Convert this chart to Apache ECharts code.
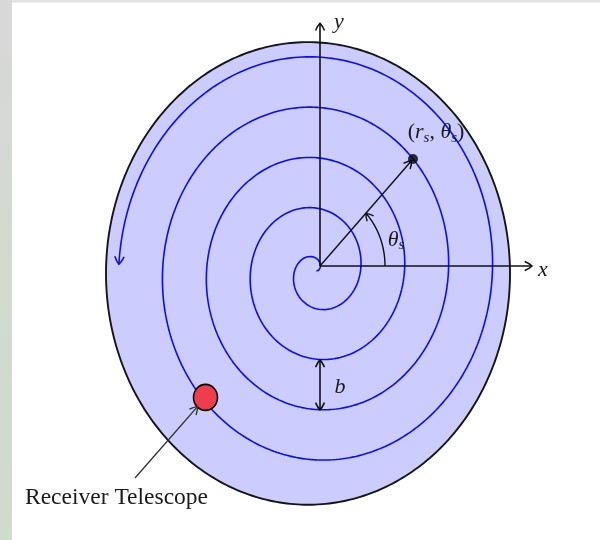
<!DOCTYPE html>
<html><head><meta charset="utf-8">
<script src="https://cdn.jsdelivr.net/npm/echarts@6/dist/echarts.min.js"></script>
<style>html,body{margin:0;padding:0;background:#fff}#c{width:600px;height:540px}</style>
</head><body><div id="c"></div>
<script>
// ---- frame (data units; vertical unit stretched as in the reference) ----
const xRange = [-320, 280];
const yRange = [-239.3, 232.3];

// ---- disc ----
const discCenter = [-12, -6.5];
const discRadius = [202, 202];

// ---- spiral r = pitch * theta around spiralCenter ----
const spiralCenter = [-3.5, -4.4];
const spiralPitch = [7];
const spiralThetaRange = [0, 9 * Math.PI - 0.03];

// ---- arrows: [x1, y1, x2, y2, headAtStart, headAtEnd] ----
const axisArrows = [
  [0, 0, 212, 0, 0, 1],
  [0, 0, 0, 212, 0, 1]
];
const radiusArrow = [[0, 0, 91.5, 91.9, 0, 1]];
const bArrow = [[0, -82, 0, -125.6, 1, 1]];
const pointerArrow = [[-185, -185.2, -122.5, -122.8, 0, 1]];

// ---- source point and angle ----
const sourcePoint = [[93, 93.4]];
const angleArc = [[65, 0, 45]]; // radius, from deg, to deg

// ---- receiver telescope ----
const telescope = [[-114.5, -114.8]];

// ---- text labels ----
const labelTexts = [
  '{i|x}',
  '{i|y}',
  '{n|(}{i|r}{s|s}{n|, }{i|θ}{s|s}{n|)}',
  '{i|θ}{s|s}',
  '{i|b}',
  '{t|Receiver Telescope}'
];
const labelPositions = [
  [223, -3.5],
  [19, 213],
  [116, 116.5],
  [76, 22.7],
  [20, -105.7],
  [-203.5, -202.6]
];

// ---- build spiral ----
const spiralData = [];
for (let t = spiralThetaRange[0]; t <= spiralThetaRange[1]; t += 0.02) {
  const r = spiralPitch[0] * t;
  spiralData.push([spiralCenter[0] + r * Math.cos(t), spiralCenter[1] + r * Math.sin(t)]);
}
{
  const t = spiralThetaRange[1], r = spiralPitch[0] * t;
  spiralData.push([spiralCenter[0] + r * Math.cos(t), spiralCenter[1] + r * Math.sin(t)]);
}
const spiralHead = [[
  spiralData[spiralData.length - 1][0], spiralData[spiralData.length - 1][1],
  spiralData[spiralData.length - 4][0], spiralData[spiralData.length - 4][1]
]];

const SERIF = '"Liberation Serif", "DejaVu Serif", serif';
const INK = '#111';

function headPts(tip, from, L, spread, lw) {
  const dx = tip[0] - from[0], dy = tip[1] - from[1];
  const len = Math.hypot(dx, dy) || 1;
  const ux = dx / len, uy = dy / len;
  const out = [];
  for (const s of [-spread, spread]) {
    const c = Math.cos(s), sn = Math.sin(s);
    const rx = ux * c - uy * sn, ry = ux * sn + uy * c;
    out.push([tip[0] - L * rx, tip[1] - L * ry]);
  }
  const mid = (b) => [ (b[0] + tip[0]) / 2 + ux * 1.5, (b[1] + tip[1]) / 2 + uy * 1.5 ];
  return {
    type: 'path',
    shape: {
      pathData: 'M' + out[0][0] + ' ' + out[0][1] + ' Q' + mid(out[0])[0] + ' ' + mid(out[0])[1] + ' ' + tip[0] + ' ' + tip[1] +
        ' Q' + mid(out[1])[0] + ' ' + mid(out[1])[1] + ' ' + out[1][0] + ' ' + out[1][1]
    },
    style: { fill: null, stroke: INK, lineWidth: lw || 1.4 }
  };
}

function arrowRender(color, lw) {
  return function (params, api) {
    const p1 = api.coord([api.value(0), api.value(1)]);
    const p2 = api.coord([api.value(2), api.value(3)]);
    const children = [{
      type: 'line',
      shape: { x1: p1[0], y1: p1[1], x2: p2[0], y2: p2[1] },
      style: { stroke: color, lineWidth: lw }
    }];
    if (api.value(4)) { const h = headPts(p1, p2, 8.5, 0.55, lw); h.style.stroke = color; children.push(h); }
    if (api.value(5)) { const h = headPts(p2, p1, 8.5, 0.55, lw); h.style.stroke = color; children.push(h); }
    return { type: 'group', children: children };
  };
}

const chart = echarts.init(document.getElementById('c'), null, { renderer: 'canvas' });
chart.setOption({
  animation: false,
  backgroundColor: '#ffffff',
  graphic: [
    { type: 'rect', left: 0, top: 0, shape: { width: 600, height: 2.5 }, style: { fill: '#e2e2e2' }, z: 100 },
    { type: 'rect', left: 0, top: 0, shape: { width: 12, height: 540 },
      style: { fill: new echarts.graphic.LinearGradient(0, 0, 0, 1, [{ offset: 0, color: '#d8d8d8' }, { offset: 1, color: '#cfdbcb' }]) }, z: 101 }
  ],
  grid: { left: 0, right: 0, top: 0, bottom: 0 },
  xAxis: { type: 'value', min: xRange[0], max: xRange[1], show: false },
  yAxis: { type: 'value', min: yRange[0], max: yRange[1], show: false },
  series: [
    {
      type: 'custom', z: 1, silent: true,
      data: [[discCenter[0], discCenter[1], discRadius[0], discRadius[1]]],
      renderItem: function (params, api) {
        const cx = api.value(0), cy = api.value(1), rx = api.value(2), ry = api.value(3);
        const pts = [];
        for (let i = 0; i < 360; i++) {
          const a = i / 360 * Math.PI * 2;
          pts.push(api.coord([cx + rx * Math.cos(a), cy + ry * Math.sin(a)]));
        }
        return { type: 'polygon', shape: { points: pts }, style: { fill: '#ccccff', stroke: '#151515', lineWidth: 1.9 } };
      }
    },
    {
      type: 'line', z: 2, silent: true, showSymbol: false, symbol: 'none',
      data: spiralData, lineStyle: { color: '#0a0aff', width: 1.6 }
    },
    {
      type: 'custom', z: 2, silent: true, data: spiralHead,
      renderItem: function (params, api) {
        const tip = api.coord([api.value(0), api.value(1)]);
        const from = api.coord([api.value(2), api.value(3)]);
        const h = headPts(tip, from, 9, 0.55, 1.6); h.style.stroke = '#0a0aff';
        return h;
      }
    },
    { type: 'custom', z: 3, silent: true, data: axisArrows, renderItem: arrowRender(INK, 1.6) },
    { type: 'custom', z: 3, silent: true, data: radiusArrow, renderItem: arrowRender(INK, 1.4) },
    { type: 'custom', z: 3, silent: true, data: bArrow, renderItem: arrowRender(INK, 1.6) },
    { type: 'custom', z: 5, silent: true, data: pointerArrow, renderItem: arrowRender('#333', 1.4) },
    {
      type: 'custom', z: 3, silent: true, data: angleArc,
      renderItem: function (params, api) {
        const r = api.value(0), a0 = api.value(1), a1 = api.value(2);
        const pts = [];
        for (let a = a0; a <= a1 + 1e-6; a += 1) {
          const rad = a * Math.PI / 180;
          pts.push(api.coord([r * Math.cos(rad), r * Math.sin(rad)]));
        }
        const h = headPts(pts[pts.length - 1], pts[pts.length - 3], 8, 0.55, 1.4);
        return { type: 'group', children: [
          { type: 'polyline', shape: { points: pts }, style: { stroke: INK, lineWidth: 1.4, fill: null } }, h ] };
      }
    },
    {
      type: 'scatter', z: 4, silent: true, data: sourcePoint, symbolSize: 10,
      itemStyle: { color: '#000' }
    },
    {
      type: 'scatter', z: 4, silent: true, data: telescope, symbolSize: [24, 26],
      itemStyle: { color: '#ee3d4d', borderColor: '#000', borderWidth: 1.6, opacity: 1 }
    },
    {
      type: 'custom', z: 6, silent: true,
      data: labelPositions.map((p, i) => [p[0], p[1], i]),
      renderItem: function (params, api) {
        const p = api.coord([api.value(0), api.value(1)]);
        return {
          type: 'text', x: p[0], y: p[1],
          style: {
            text: labelTexts[api.value(2)],
            align: 'center', verticalAlign: 'middle',
            fill: '#1a1a1a',
            rich: {
              i: { fontFamily: SERIF, fontStyle: 'italic', fontSize: 22, lineHeight: 26, fill: '#1a1a1a', verticalAlign: 'middle' },
              n: { fontFamily: SERIF, fontSize: 22, lineHeight: 26, fill: '#1a1a1a', verticalAlign: 'middle' },
              t: { fontFamily: SERIF, fontSize: 23.5, lineHeight: 26, fill: '#1a1a1a', verticalAlign: 'middle' },
              s: { fontFamily: SERIF, fontStyle: 'italic', fontSize: 15, lineHeight: 12, fill: '#1a1a1a', verticalAlign: 'bottom' }
            }
          }
        };
      }
    }
  ]
});
</script>
</body></html>
